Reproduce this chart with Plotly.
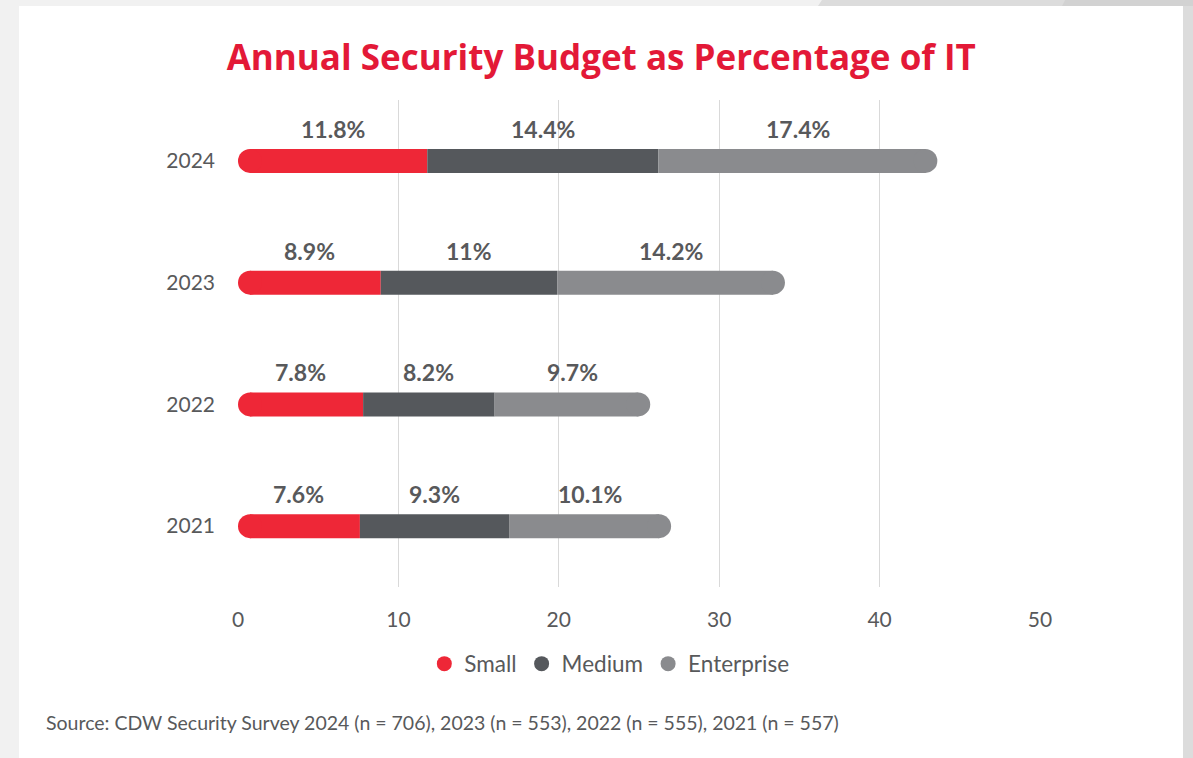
import plotly.graph_objects as go

# Survey years and average security budget share of IT spend, by organisation size
years = ["2021", "2022", "2023", "2024"]
small = [7.6, 7.8, 8.9, 11.8]
medium = [9.3, 8.2, 11, 14.4]
enterprise = [10.1, 9.7, 14.2, 17.4]
value_labels = {
    "Small": ["7.6%", "7.8%", "8.9%", "11.8%"],
    "Medium": ["9.3%", "8.2%", "11%", "14.4%"],
    "Enterprise": ["10.1%", "9.7%", "14.2%", "17.4%"],
}
x_ticks = [0, 10, 20, 30, 40, 50]

RED = "#ee2737"
DARK = "#55585c"
GREY = "#8a8b8e"
TEXT = "#58595b"
FONT = "Lato"

W, H = 1193, 758
L, R, T, B = 238, 153, 100, 171
PW, PH = W - L - R, H - T - B
X_MAX = 50

BAR_PX = 24                                  # bar thickness in pixels
bar_width = BAR_PX / (PH / len(years))       # same thickness in category units
cap = (BAR_PX / 2) / (PW / X_MAX)            # cap radius in x-axis units


def px(xp):
    return (xp - L) / PW


def py(yp):
    return (H - B - yp) / PH


fig = go.Figure()

mid_base = small
ent_base = [s + m for s, m in zip(small, medium)]
totals = [s + m + e for s, m, e in zip(small, medium, enterprise)]

bar_kw = dict(orientation="h", width=bar_width, showlegend=False, hoverinfo="skip")

# Straight parts of the stacked bars (the outer ends leave room for round caps)
fig.add_trace(go.Bar(
    y=years, x=[v - cap for v in small], base=[cap] * len(years),
    marker=dict(color=RED, line=dict(width=0)), **bar_kw,
))
fig.add_trace(go.Bar(
    y=years, x=medium, base=mid_base,
    marker=dict(color=DARK, line=dict(width=0)), **bar_kw,
))
fig.add_trace(go.Bar(
    y=years, x=[v - cap for v in enterprise], base=ent_base,
    marker=dict(color=GREY, line=dict(width=0)), **bar_kw,
))

# Round caps at both outer ends of every bar
fig.add_trace(go.Scatter(
    y=years, x=[cap] * len(years), mode="markers", showlegend=False, hoverinfo="skip",
    marker=dict(color=RED, size=BAR_PX, line=dict(width=0)),
))
fig.add_trace(go.Scatter(
    y=years, x=[t - cap for t in totals], mode="markers", showlegend=False, hoverinfo="skip",
    marker=dict(color=GREY, size=BAR_PX, line=dict(width=0)),
))

# Legend entries with round swatches
for name, col in [("Small", RED), ("Medium", DARK), ("Enterprise", GREY)]:
    fig.add_trace(go.Scatter(
        x=[None], y=[None], mode="markers", name=name,
        marker=dict(color=col, size=15, symbol="circle"),
    ))

# Value labels above each segment
annotations = []
for i in range(len(years)):
    segs = [
        ("Small", 0, small[i]),
        ("Medium", mid_base[i], medium[i]),
        ("Enterprise", ent_base[i], enterprise[i]),
    ]
    for name, b, v in segs:
        annotations.append(dict(
            x=b + v / 2, y=i, xref="x", yref="y",
            text=value_labels[name][i], showarrow=False, yshift=32,
            font=dict(family=FONT, size=23, color=TEXT, weight="bold"),
        ))

annotations.append(dict(
    x=px(44), y=py(722), xref="paper", yref="paper", xanchor="left", yanchor="middle",
    text="Source: CDW Security Survey 2024 (n = 706), 2023 (n = 553), 2022 (n = 555), 2021 (n = 557)",
    showarrow=False, font=dict(family=FONT, size=19.5, color=TEXT),
))

# Page backdrop: grey surround with a white card
shapes = [
    dict(type="rect", xref="paper", yref="paper", layer="below",
         x0=px(0), x1=px(W), y0=py(H), y1=py(0), fillcolor="#f1f1f1", line=dict(width=0)),
    dict(type="path", xref="paper", yref="paper", layer="below",
         path=f"M {px(822)},{py(0)} L {px(W)},{py(0)} L {px(W)},{py(H)} L {px(1183)},{py(H)} L {px(1183)},{py(6)} L {px(818)},{py(6)} Z",
         fillcolor="#dcdcdc", line=dict(width=0)),
    dict(type="path", xref="paper", yref="paper", layer="below",
         path=f"M {px(1065)},{py(0)} L {px(W)},{py(0)} L {px(W)},{py(6)} L {px(1062)},{py(6)} Z",
         fillcolor="#d2d2d2", line=dict(width=0)),
    dict(type="rect", xref="paper", yref="paper", layer="below",
         x0=px(19), x1=px(1183), y0=py(H), y1=py(6), fillcolor="white", line=dict(width=0)),
]

fig.update_layout(
    width=W, height=H,
    margin=dict(l=L, r=R, t=T, b=B),
    paper_bgcolor="#f1f1f1",
    plot_bgcolor="rgba(0,0,0,0)",
    barmode="overlay",
    title=dict(
        text="Annual Security Budget as Percentage of IT",
        x=0.504, xref="container", xanchor="center",
        y=1 - 58 / H, yref="container", yanchor="middle",
        font=dict(family="Open Sans", size=35, color="#e31937", weight="bold"),
    ),
    xaxis=dict(
        range=[0, X_MAX], tickvals=x_ticks, showgrid=True, gridcolor="#d9d9d9", gridwidth=1,
        zeroline=False, showline=False, ticks="", ticklabelstandoff=18,
        tickfont=dict(family=FONT, size=21, color=TEXT), fixedrange=True,
    ),
    yaxis=dict(
        type="category", categoryorder="array", categoryarray=years,
        range=[-0.5, len(years) - 0.5], showgrid=False, zeroline=False, showline=False,
        ticks="", ticklabelstandoff=22,
        tickfont=dict(family=FONT, size=21, color=TEXT), fixedrange=True,
    ),
    legend=dict(
        orientation="h", x=0.463, xanchor="center", y=py(664), yanchor="middle",
        font=dict(family=FONT, size=22.5, color=TEXT), bgcolor="rgba(0,0,0,0)",
        itemclick=False, itemdoubleclick=False,
    ),
    annotations=annotations,
    shapes=shapes,
    showlegend=True,
)

fig.write_html("out.html")
